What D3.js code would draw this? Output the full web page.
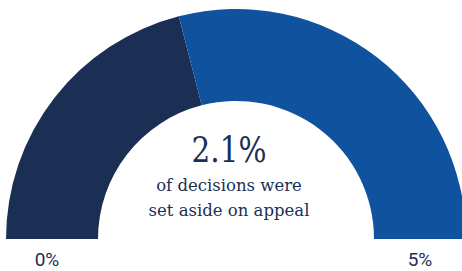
<!DOCTYPE html>
<html>
<head>
<meta charset="utf-8">
<script src="https://cdn.jsdelivr.net/npm/d3@7"></script>
<style>
  body { margin: 0; background: #fff; }
  svg { display: block; }
</style>
</head>
<body>
<svg id="gauge" width="462" height="271"></svg>
<script>
// gauge data
const gaugeMin = 0;
const gaugeMax = 5;
const gaugeValue = 2.1;
const endLabels = ["0%", "5%"];
const centerValue = "2.1%";
const centerLines = ["of decisions were", "set aside on appeal"];

const svg = d3.select("#gauge"),
    cx = 236,
    cy = 239,
    outerR = 230,
    innerR = 138;

const navy = "#1b2f55",
    blue = "#0f539e";

// value -> angle, left (-90deg) to right (+90deg)
const angle = d3.scaleLinear()
    .domain([gaugeMin, gaugeMax])
    .range([-Math.PI / 2, Math.PI / 2]);

const arc = d3.arc()
    .innerRadius(innerR)
    .outerRadius(outerR);

const g = svg.append("g").attr("transform", `translate(${cx},${cy})`);

const segments = [
    {from: gaugeMin, to: gaugeValue, color: navy},
    {from: gaugeValue, to: gaugeMax, color: blue}
];

g.selectAll("path")
    .data(segments)
    .enter().append("path")
    .attr("d", function(d) {
        return arc({startAngle: angle(d.from), endAngle: angle(d.to)});
    })
    .style("fill", function(d) { return d.color; });

// centre text
const txt = svg.append("g").attr("transform", `translate(229,0)`)
    .style("fill", navy)
    .style("text-anchor", "middle")
    .style("font-family", "'DejaVu Serif', serif");

// big number, squeezed a bit so it is tall but not too wide
txt.append("text")
    .attr("transform", "translate(0,162) scale(0.82,1)")
    .style("font-size", "36px")
    .text(centerValue);

txt.selectAll("text.line")
    .data(centerLines)
    .enter().append("text")
    .attr("class", "line")
    .attr("y", function(d, i) { return 191 + i * 25; })
    .style("font-size", "16.5px")
    .text(function(d) { return d; });

// end labels under each side of the ring
const labelX = [47, 420];
svg.selectAll("text.end")
    .data(endLabels)
    .enter().append("text")
    .attr("class", "end")
    .attr("x", function(d, i) { return labelX[i]; })
    .attr("y", 266)
    .style("text-anchor", "middle")
    .style("font-family", "Roboto, sans-serif")
    .style("font-size", "19px")
    .style("fill", navy)
    .text(function(d) { return d; });
</script>
</body>
</html>
